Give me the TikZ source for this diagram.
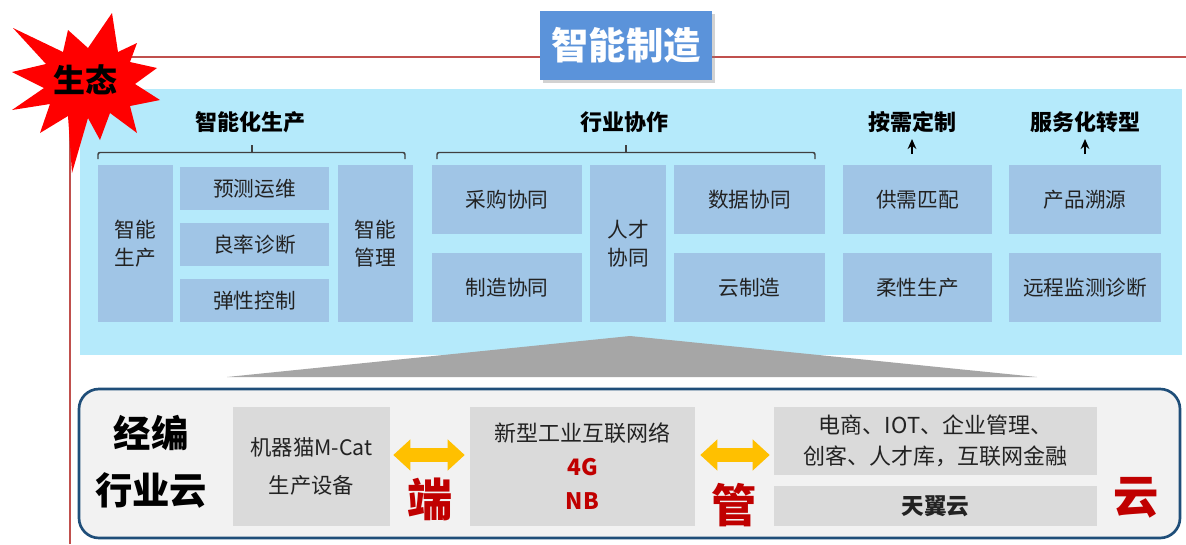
\documentclass[tikz,border=0pt]{standalone}
\usepackage{fontspec}
\setmainfont{Noto Sans CJK SC}
\usetikzlibrary{arrows.meta,shadows,calc}
\definecolor{panelc}{HTML}{B5EAFB}
\definecolor{bblue}{HTML}{A0C5E6}
\definecolor{tblue}{HTML}{5B93DA}
\definecolor{gbox}{HTML}{DADADA}
\definecolor{gfill}{HTML}{F2F2F2}
\definecolor{navyc}{HTML}{1F4E79}
\definecolor{dred}{HTML}{C00000}
\definecolor{lred}{HTML}{C0504D}
\definecolor{ylw}{HTML}{FFC000}
\definecolor{tric}{HTML}{A6A6A6}
\definecolor{txt}{HTML}{222222}
\newcommand{\mybox}[7]{%
  \pgfmathsetmacro\cx{(#3+#5)/2}\pgfmathsetmacro\cy{(#4+#6)/2}%
  \pgfmathsetmacro\ww{(#5-#3)*0.75}\pgfmathsetmacro\hh{(#6-#4)*0.75}%
  \node[#1, minimum width=\ww pt, minimum height=\hh pt] (#2) at (\cx,\cy) {#7};}
\begin{document}
\begin{tikzpicture}[x=0.75pt,y=-0.75pt,
  bluebox/.style={fill=bblue, inner sep=0pt, align=center, text=txt,
    font=\fontsize{15.5}{21}\selectfont},
  graybox/.style={fill=gbox, inner sep=0pt, align=center, text=txt},
  header/.style={font=\bfseries\fontsize{16.5}{20}\selectfont, text=black},
  bigred/.style={font=\bfseries\fontsize{34}{36}\selectfont, text=dred},
  redline/.style={draw=lred, line width=1.5pt},
  bracket/.style={draw=black!75, line width=1.1pt, rounded corners=1.5pt},
  uparrow/.style={draw=black, line width=1.3pt, -{Stealth[length=7.5pt,width=6.5pt]}},
  dblarrow/.style={draw=ylw, line width=10.5pt,
    {Triangle[length=12.75pt,width=22.5pt]}-{Triangle[length=12.75pt,width=22.5pt]}},
]
\useasboundingbox (0,0) rectangle (1186,544);
\fill[white] (0,0) rectangle (1186,544);

% frame lines
\draw[redline] (70,544) -- (70,57) -- (1186,57);

% title
\mybox{fill=tblue, text=white, inner sep=0pt, drop shadow={shadow xshift=2pt, shadow yshift=-2pt, opacity=0.35},
  font=\bfseries\fontsize{28}{30}\selectfont}{title}{540}{11}{712}{80}{智能制造}

% top panel
\mybox{fill=panelc, inner sep=0pt}{panel}{80}{89}{1182}{355}{}

% starburst
\fill[red] (112,13) -- (118,52) -- (137,43) -- (130,62) -- (157,68) -- (135,84)
  -- (160,100) -- (130,106) -- (137,133) -- (110,113) -- (100,140) -- (88,118)
  -- (72,173) -- (68,116) -- (40,133) -- (50,104) -- (12,110) -- (44,88)
  -- (12,72) -- (46,64) -- (13,28) -- (63,52) -- (68,30) -- (88,48) -- cycle;
\node[font=\bfseries\fontsize{24}{26}\selectfont, text=black] (eco) at (85,80) {生态};

% headers
\node[header] (h1) at (250,122) {智能化生产};
\node[header] (h2) at (624,122) {行业协作};
\node[header] (h3) at (912,122) {按需定制};
\node[header] (h4) at (1085,122) {服务化转型};

% brackets
\draw[bracket] (98,159) -- (98,152.5) -- (405,152.5) -- (405,159);
\draw[bracket, rounded corners=0pt] (252,152.5) -- (252,145);
\draw[bracket] (437,159) -- (437,152.5) -- (815,152.5) -- (815,159);
\draw[bracket, rounded corners=0pt] (626,152.5) -- (626,145);

% up arrows
\coordinate (a3) at (912,154);
\coordinate (a4) at (1085,154);
\draw[uparrow] (a3) -- (912,139);
\draw[uparrow] (a4) -- (1085,139);

% group 1
\mybox{bluebox}{g1a}{98}{165}{173}{322}{智能\\生产}
\mybox{bluebox}{g1b}{180}{167}{329}{210}{预测运维}
\mybox{bluebox}{g1c}{180}{223}{329}{266}{良率诊断}
\mybox{bluebox}{g1d}{180}{279}{329}{322}{弹性控制}
\mybox{bluebox}{g1e}{338}{165}{413}{322}{智能\\管理}
% group 2
\mybox{bluebox}{g2a}{432}{165}{582}{234}{采购协同}
\mybox{bluebox}{g2b}{432}{253}{582}{322}{制造协同}
\mybox{bluebox}{g2c}{590}{165}{666}{322}{人才\\协同}
\mybox{bluebox}{g2d}{674}{165}{825}{234}{数据协同}
\mybox{bluebox}{g2e}{674}{253}{825}{322}{云制造}
% group 3
\mybox{bluebox}{g3a}{843}{165}{992}{234}{供需匹配}
\mybox{bluebox}{g3b}{843}{253}{992}{322}{柔性生产}
\mybox{bluebox}{g4a}{1009}{165}{1161}{234}{产品溯源}
\mybox{bluebox}{g4b}{1009}{253}{1161}{322}{远程监测诊断}

% gray wedge
\fill[tric] (227,377) -- (630,336) -- (1037,377) -- cycle;

% bottom rounded box
\draw[draw=navyc, line width=2pt, fill=gfill, rounded corners=15pt] (79,389) rectangle (1180,538);

\node[align=center, text=black, font=\bfseries\fontsize{28}{43}\selectfont] (cloud) at (151,462) {经编\\行业云};

\mybox{graybox, font=\fontsize{16}{28}\selectfont}{dev}{233}{407}{390}{526}{机器猫M-Cat\\生产设备}
\mybox{graybox, font=\fontsize{16.5}{25.5}\selectfont}{net}{470}{407}{695}{526}{新型工业互联网络\\{\color{dred}\bfseries\fontsize{17}{25.5}\selectfont 4G}\\{\color{dred}\bfseries\fontsize{17}{25.5}\selectfont NB}}
\mybox{graybox, font=\fontsize{16.5}{23}\selectfont}{app}{774}{407}{1097}{475}{电商、IOT、企业管理、\\创客、人才库，互联网金融}
\mybox{graybox, font=\bfseries\fontsize{17}{20}\selectfont}{ty}{774}{486}{1097}{526}{天翼云}

\coordinate (p1) at ($(dev.east)+(3,-11.5)$);
\coordinate (p2) at ($(net.east)+(5,-11.5)$);
\draw[dblarrow] (p1) -- ($(p1 -| net.west)+(-5,0)$);
\draw[dblarrow] (p2) -- ($(p2 -| app.west)+(-4,0)$);

\node[bigred] (duan) at (430,499) {端};
\node[bigred] (guan) at (734,505) {管};
\node[bigred] (yun) at (1136,498) {云};
\end{tikzpicture}
\end{document}
